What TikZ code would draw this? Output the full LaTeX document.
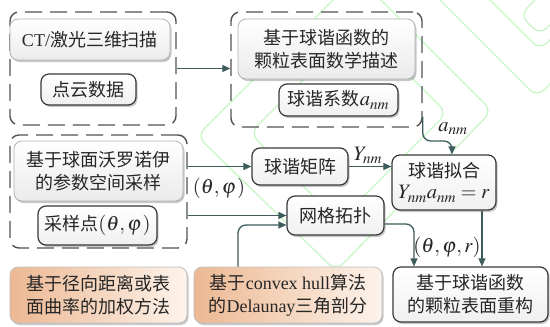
\documentclass[tikz,border=0pt]{standalone}
\usepackage{mathptmx}
\usepackage{fontspec}
\setmainfont{Liberation Serif}
\newfontfamily\cjkfont{Noto Sans CJK SC}
\newcommand\zh[1]{{\cjkfont #1}}
\newcommand\mth[1]{{\fontsize{20.5}{23}\selectfont$#1$}}
\usetikzlibrary{arrows.meta,shadows}
\definecolor{conncol}{RGB}{62,92,92}
\definecolor{wmgreen}{RGB}{200,246,200}
\definecolor{orL}{RGB}{236,184,146}
\definecolor{orR}{RGB}{253,243,235}
\begin{document}
\begin{tikzpicture}[x=1pt,y=-1pt,
  wm/.style={draw=wmgreen, line width=1.3pt, rounded corners=10pt},
  dashgrp/.style={draw=black!68, line width=1.4pt, dash pattern=on 17pt off 8pt, rounded corners=9pt, inner sep=0pt},
  box/.style={rounded corners=8pt, inner sep=0pt, align=center, font=\fontsize{18}{23}\selectfont, text=black!85,
    drop shadow={shadow xshift=1.5pt, shadow yshift=-2pt, opacity=0.22, fill=black}},
  lightbox/.style={box, draw=black!30, line width=0.8pt, top color=white, bottom color=black!8},
  darkbox/.style={box, draw=black!78, line width=1.2pt, top color=white, bottom color=black!6},
  orbox/.style={box, draw=black!25, line width=0.8pt, left color=orL, right color=orR},
  lbl/.style={font=\fontsize{18}{22}\selectfont, inner sep=0pt, text=black!85},
  conn/.style={draw=conncol, line width=1.3pt, -{Triangle[length=8pt,width=7pt]}}
]
\useasboundingbox (0,0) rectangle (550,327);
\fill[white] (0,0) rectangle (550,327);
% watermark
\begin{scope}
\clip (0,0) rectangle (550,327);
\draw[wm] (197,136) -- (357,-24) -- (492,111) -- (336,271) -- cycle;
\draw[wm] (250,133) -- (358.5,24.5) -- (447,113) -- (338.5,221.5) -- cycle;
\draw[wm] (438,-2) -- (537,97) -- (600,34);
\draw[wm] (488,-2) -- (540,50) -- (600,-10);
\draw[wm] (535,0) -- (520,15) -- (540,35) -- (560,15);
\end{scope}
% groups
\node[dashgrp, minimum width=166pt, minimum height=113pt] (g1) at (93,68.5) {};
\node[dashgrp, minimum width=191pt, minimum height=115pt] (g2) at (326.5,69.5) {};
\node[dashgrp, minimum width=177pt, minimum height=113pt] (g3) at (98.5,191.5) {};
% boxes
\node[lightbox, minimum width=160pt, minimum height=41pt] (ct) at (90,39.5) {CT/\zh{激光三维扫描}};
\node[darkbox, minimum width=95pt, minimum height=31pt] (pc) at (88.5,89.5) {\zh{点云数据}};
\node[lightbox, minimum width=177pt, minimum height=60pt] (desc) at (326.5,49) {\zh{基于球谐函数的}\\\zh{颗粒表面数学描述}};
\node[darkbox, minimum width=119pt, minimum height=32pt] (coef) at (338.5,100) {\zh{球谐系数}\mth{a_{nm}}};
\node[lightbox, minimum width=169pt, minimum height=60pt] (vor) at (98.5,171) {\zh{基于球面沃罗诺伊}\\\zh{的参数空间采样}};
\node[darkbox, minimum width=119pt, minimum height=39pt] (samp) at (97.5,225.5) {\zh{采样点}\mth{(\theta,\varphi\mkern1mu)}};
\node[darkbox, minimum width=96pt, minimum height=37pt] (mat) at (300,166.5) {\zh{球谐矩阵}};
\node[darkbox, minimum width=104pt, minimum height=55pt] (fit) at (444,182.5) {\zh{球谐拟合}\\[-2pt]\mth{Y_{nm}a_{nm}=r}};
\node[darkbox, minimum width=97pt, minimum height=39pt] (mesh) at (335.5,215.5) {\zh{网格拓扑}};
\node[darkbox, minimum width=155pt, minimum height=55pt] (rec) at (470.5,294.5) {\zh{基于球谐函数}\\\zh{的颗粒表面重构}};
\node[orbox, minimum width=177pt, minimum height=56pt] (w1) at (98.5,295) {\zh{基于径向距离或表}\\\zh{面曲率的加权方法}};
\node[orbox, minimum width=188pt, minimum height=56pt] (w2) at (288,295) {\zh{基于}convex hull\zh{算法}\\\zh{的}Delaunay\zh{三角剖分}};
% connectors
\draw[conn] (g1.east) -- (g1.east -| g2.west);
\coordinate (fitin) at ([xshift=8pt]fit.north);
\draw[conn, rounded corners=8pt] (g2.east |- coef.south) |- (fitin |- 0,141) -- (fitin);
\node[lbl] (lanm) at (453,129) {\mth{a_{nm}}};
\draw[conn] (g3.east |- mat.west) -- (mat.west);
\draw[conn] (g3.east |- mesh.west) -- (mesh.west);
\node[lbl] (ltp) at (219,188) {\mth{(\theta,\varphi\mkern1mu)}};
\draw[conn] (mat.east) -- (mat.east -| fit.west);
\node[lbl] (lY) at (368,155) {\mth{Y_{nm}}};
\draw[conn, rounded corners=8pt] ([yshift=-8.5pt]mesh.east) -| ([xshift=-56.5pt]rec.north);
\node[lbl] (ltpr) at (447,247) {\mth{(\theta,\varphi,r)}};
\draw[conn] ([xshift=38pt]fit.south) -- ([xshift=38pt]fit.south |- rec.north);
\draw[conn, rounded corners=8pt] ([xshift=-50pt]w2.north) |- ([yshift=-9.5pt]mesh.west);
\end{tikzpicture}
\end{document}
